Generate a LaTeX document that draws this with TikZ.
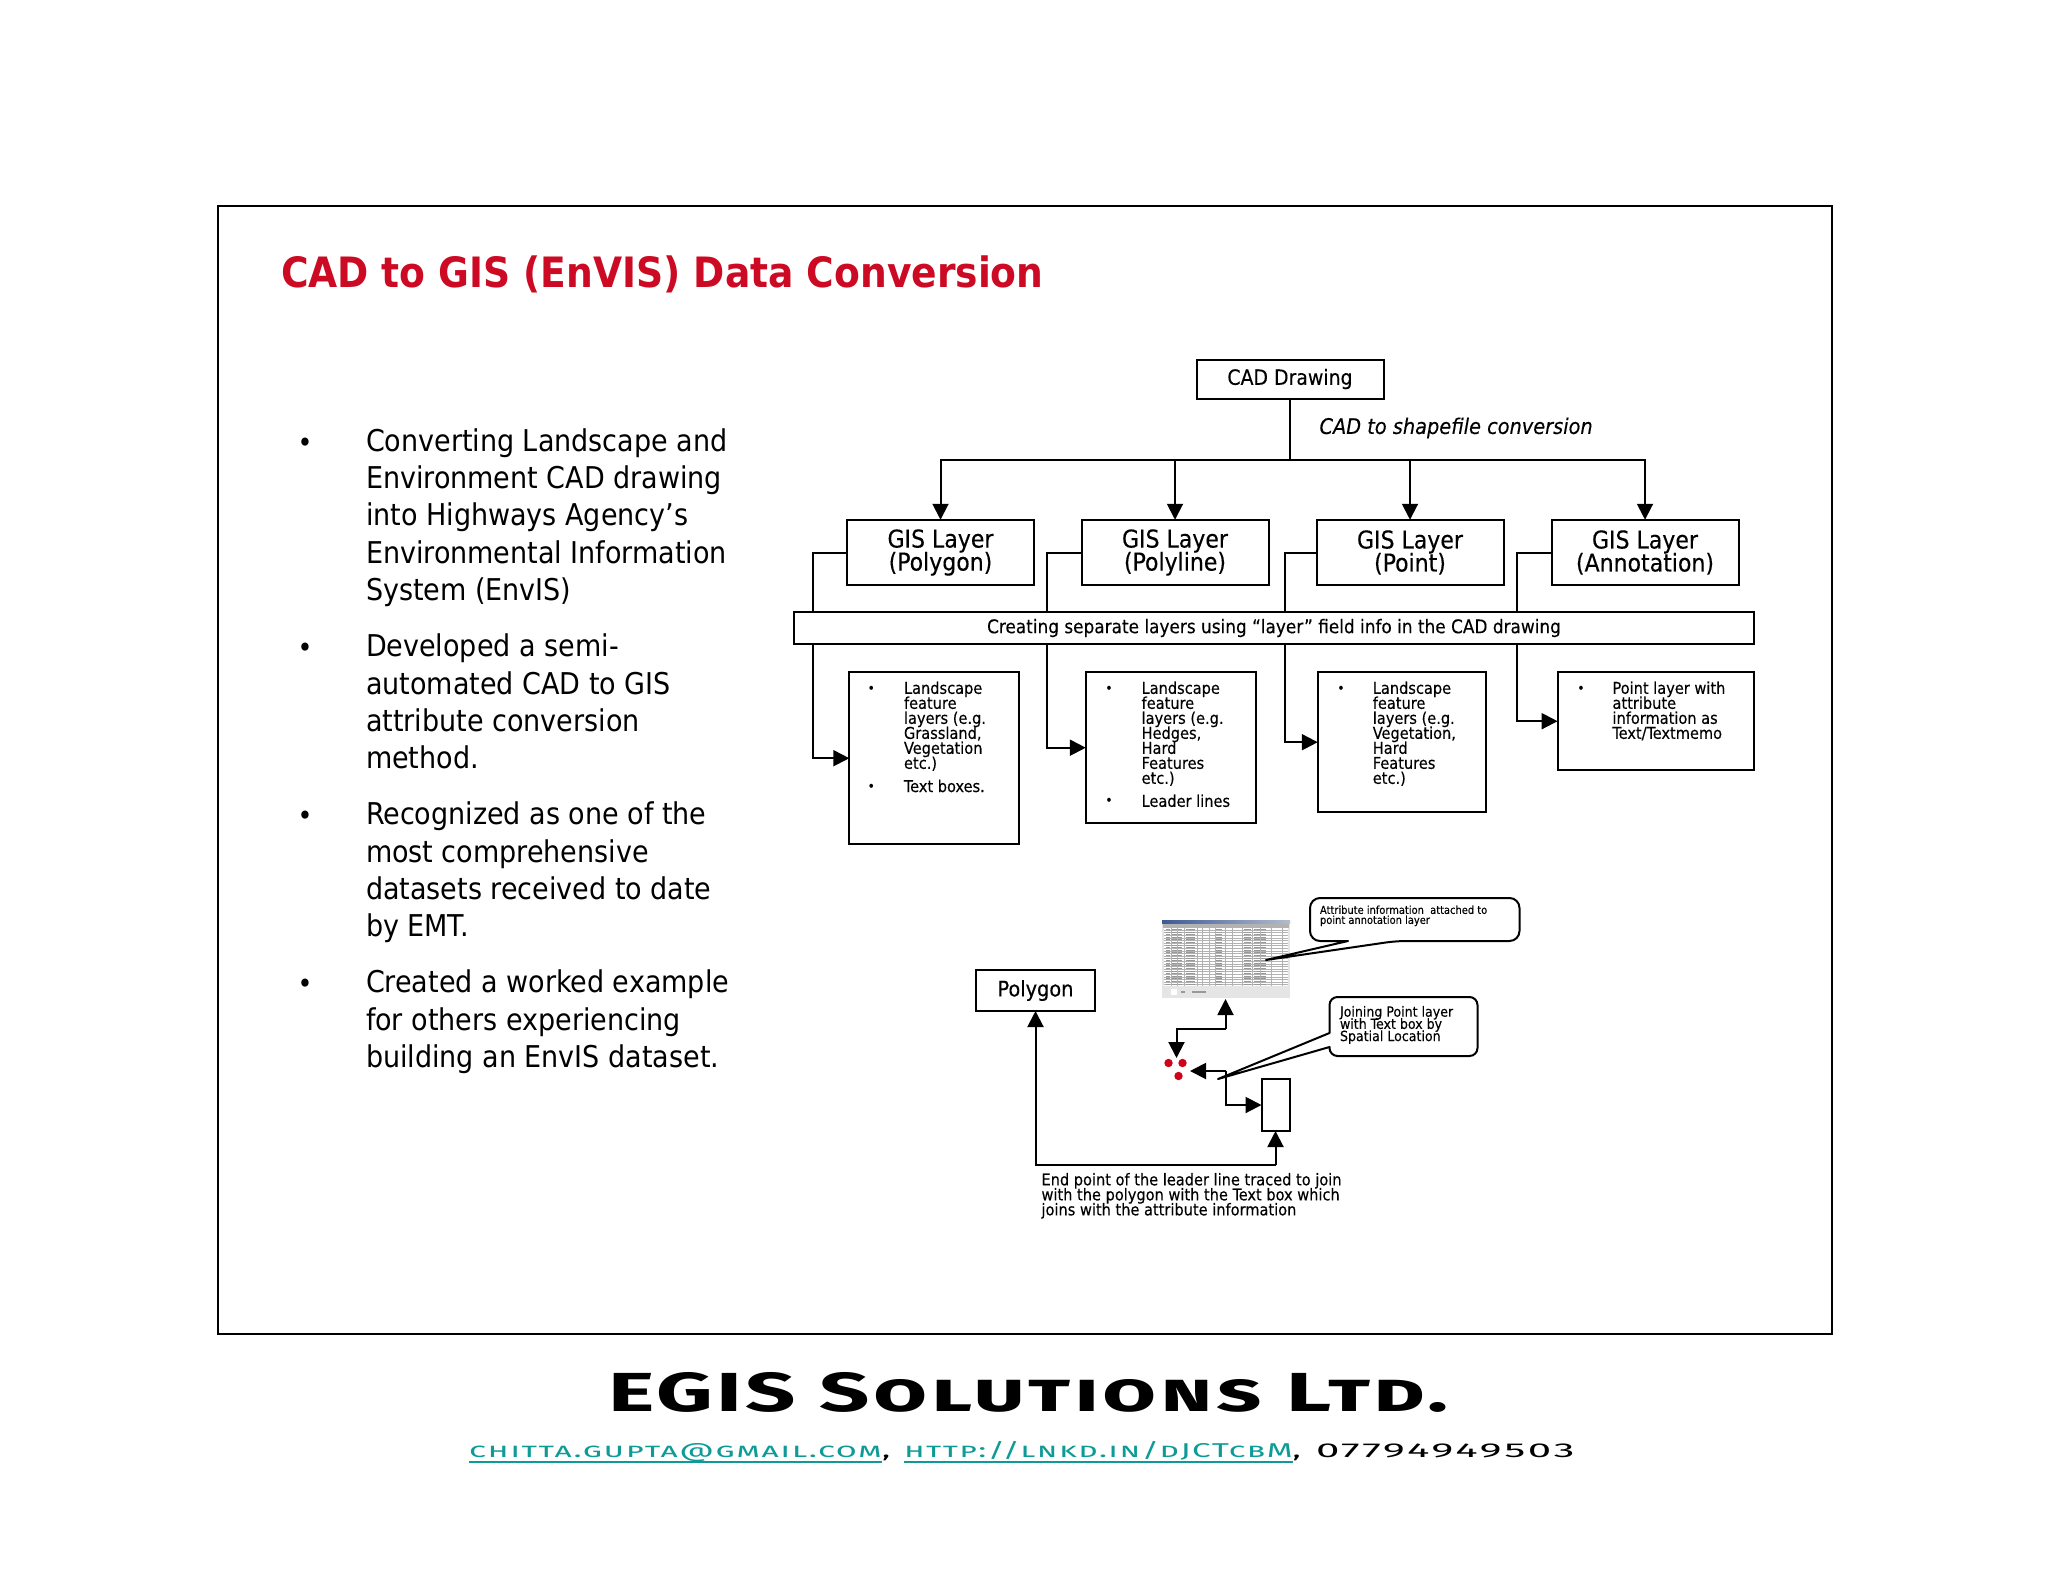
\documentclass[tikz,border=0pt]{standalone}
\usepackage{fontspec}
\setmainfont{DejaVu Sans Condensed}
\newfontfamily\dg[FakeBold=0.25]{DejaVu Sans Condensed}
\newfontfamily\headf[FakeStretch=1.6,LetterSpace=6,Letters=SmallCaps]{Fira Sans}
\newfontfamily\subf[FakeStretch=1.7,LetterSpace=7.5,Letters=SmallCaps]{Fira Sans}
\newfontfamily\webf[FakeStretch=1.66,LetterSpace=7.3,Letters=SmallCaps]{Fira Sans}
\newfontfamily\telf[FakeStretch=2.1,LetterSpace=13]{Fira Sans}
\usetikzlibrary{arrows.meta}
\newcommand\fsz[2]{\fontsize{#1}{#2}\lineskiplimit=-100pt\selectfont}
\definecolor{titlered}{HTML}{CC0A24}
\definecolor{linkteal}{HTML}{0E9B98}
\definecolor{dotred}{HTML}{D0021B}
\definecolor{barL}{HTML}{3C5A96}
\definecolor{barR}{HTML}{B4BCCC}
\tikzset{
  every node/.style={inner sep=0pt,outer sep=0pt},
  box/.style={draw=black,line width=2pt,fill=white,align=center},
  conn/.style={draw=black,line width=2pt},
  arr/.style={conn,-{Triangle[length=16pt,width=16pt]},shorten >=0pt},
  bubble/.style={line width=2pt,fill=white,line join=round},
  bodytxt/.style={anchor=north west,align=left,font=\fsz{30}{37.3}},
  bul/.style={font=\fsz{28}{28}},
  sbul/.style={font=\fsz{14}{14}},
  smalltxt/.style={anchor=north west,align=left,font=\fsz{16.2}{15}\dg},
}
\begin{document}
\begin{tikzpicture}[x=1pt,y=-1pt]
\useasboundingbox (0,0) rectangle (2048,1582);
\fill[white] (0,0) rectangle (2048,1582);
\draw[line width=2pt] (217.5,205.5) rectangle (1832,1334);
\node[anchor=base west,font=\fsz{41.8}{50}\bfseries,text=titlered] (title) at (281,287.5) {CAD to GIS (EnVIS) Data Conversion};
% left bullets
\node[bul] (b1) at (305,445) {•};
\node[bodytxt] (t1) at (366,428.5) {Converting Landscape and\\Environment CAD drawing\\into Highways Agency’s\\Environmental Information\\System (EnvIS)};
\node[bul] (b2) at (305,650) {•};
\node[bodytxt] (t2) at (366,634) {Developed a semi-\\automated CAD to GIS\\attribute conversion\\method.};
\node[bul] (b3) at (305,818) {•};
\node[bodytxt] (t3) at (366,802) {Recognized as one of the\\most comprehensive\\datasets received to date\\by EMT.};
\node[bul] (b4) at (305,986) {•};
\node[bodytxt] (t4) at (366,970) {Created a worked example\\for others experiencing\\building an EnvIS dataset.};
% top tree
\node[box,minimum width=187pt,minimum height=39pt,font=\fsz{21}{23}\dg] (cad) at (1290,379) {CAD Drawing};
\coordinate (bus) at (1290,460);
\node[anchor=west,font=\fsz{21.5}{22}\dg\itshape] (convlbl) at (1319.5,428) {CAD to shapefile conversion};
\foreach \n/\cx/\a/\b in {g1/940.5/GIS Layer/(Polygon),g2/1175/GIS Layer/(Polyline),g3/1410/GIS Layer/(Point),g4/1645/GIS Layer/(Annotation)}{
  \node[box,minimum width=187pt,minimum height=65.5pt,font=\fsz{24.5}{23}\dg] (\n) at (\cx,552.5) {\a\\\b};
}
\draw[conn] (cad.south) -- (bus);
\draw[arr] (bus) -| (g1.north);
\draw[arr] (bus) -| (g2.north);
\draw[arr] (bus) -| (g3.north);
\draw[arr] (bus) -| (g4.north);
\node[box,minimum width=960pt,minimum height=32pt,font=\fsz{18.8}{20}\dg] (bar) at (1274,628) {Creating separate layers using “layer” field info in the CAD drawing};
% lower boxes
\node[box,minimum width=170pt,minimum height=171.5pt] (l1) at (934.3,758.2) {};
\node[box,minimum width=170pt,minimum height=150.5pt] (l2) at (1170.8,747.7) {};
\node[box,minimum width=168.5pt,minimum height=139.6pt] (l3) at (1402,742.2) {};
\node[box,minimum width=196pt,minimum height=97.6pt] (l4) at (1655.6,721.2) {};
\coordinate (a1) at (812.8,0);
\coordinate (a2) at (1046.7,0);
\coordinate (a3) at (1284.5,0);
\coordinate (a4) at (1517,0);
\foreach \g/\l/\a in {g1/l1/a1,g2/l2/a2,g3/l3/a3,g4/l4/a4}{
  \draw[conn] (\g.west) -| (\a|-bar.north);
  \draw[arr] (\a|-bar.south) |- (\l.west);
}
\node[sbul] (s1) at (871.4,689.5) {•};
\node[smalltxt] (x1) at (904,681.5) {Landscape\\feature\\layers (e.g.\\Grassland,\\Vegetation\\etc.)};
\node[sbul] (s1b) at (871.4,787.5) {•};
\node[smalltxt] (x1b) at (904,779.7) {Text boxes.};
\node[sbul] (s2) at (1109,689.5) {•};
\node[smalltxt] (x2) at (1141.6,681.5) {Landscape\\feature\\layers (e.g.\\Hedges,\\Hard\\Features\\etc.)};
\node[sbul] (s2b) at (1109,802) {•};
\node[smalltxt] (x2b) at (1141.6,794.5) {Leader lines};
\node[sbul] (s3) at (1341,689.5) {•};
\node[smalltxt] (x3) at (1372.8,681.5) {Landscape\\feature\\layers (e.g.\\Vegetation,\\Hard\\Features\\etc.)};
\node[sbul] (s4) at (1581,689.5) {•};
\node[smalltxt] (x4) at (1612.5,681.5) {Point layer with\\attribute\\information as\\Text/Textmemo};
% lower diagram
\node[box,minimum width=119pt,minimum height=41pt,font=\fsz{21.5}{23}\dg] (poly) at (1035.5,990.5) {Polygon};
% screenshot
\node[fill=black!10,minimum width=128pt,minimum height=78pt] (sheet) at (1225.5,959) {};
\fill[white] (1164,928) rectangle (1288,986);
\shade[left color=barL,right color=barR] (1162,920) rectangle (1290,923.5);
\fill[black!30] (1163,923.5) rectangle (1289,928);
\foreach \r in {0,...,21}{
  \draw[black!30,line width=.4pt] (1164,{930+2.6*\r}) -- (1288,{930+2.6*\r});
  \foreach \c/\w in {1166/4,1171/6,1178/4,1186/9,1216/6,1244/7,1254/7,1261/5}{
    \fill[black!40] (\c,{929+2.6*\r}) rectangle ++(\w,1);
  }
}
\foreach \c in {1171,1177,1184,1197,1202,1209,1215,1225,1232,1242,1252,1260,1271,1282}{
  \draw[black!30,line width=.4pt] (\c,928) -- (\c,986);
}
\fill[white] (1171,989) rectangle (1177,995);
\fill[black!40] (1181,991) rectangle (1185,993);
\fill[black!40] (1192,991) rectangle (1206,993);
% callouts
\draw[bubble,rounded corners=10pt] (1348,941) -- (1310,941) -- (1310,898) -- (1519.5,898) -- (1519.5,941) -- (1396,941) [sharp corners] -- (1266,960) -- cycle;
\node[anchor=north west,align=left,font=\fsz{11}{10}\dg] (c1) at (1320,905.5) {Attribute information\ \ attached to\\point annotation layer};
\coordinate (d1) at (1168.5,1063);
\coordinate (d2) at (1182.5,1063);
\coordinate (d3) at (1178.5,1076);
\foreach \d in {d1,d2,d3}{\fill[dotred] (\d) circle (4.2pt);}
\node[box,minimum width=28pt,minimum height=52pt] (tb) at (1275.5,1105) {};
\coordinate (dots) at (1190,1071);
\coordinate (dn) at (1176.5,1058);
\coordinate (jn1) at (1225.5,1029);
\coordinate (jn2) at (1225.5,1071);
\coordinate (sheetb) at (1225.5,999);
\draw[arr] (jn1) -- (sheetb);
\draw[arr] (jn1) -| (dn);
\draw[arr] (jn2) -- (dots);
\draw[arr] (jn2) |- (tb.west);
\coordinate (lowb) at (1035.5,1165);
\draw[arr] (tb.south|-lowb) -- (tb.south);
\draw[arr] (tb.south|-lowb) -| (poly.south);
\draw[bubble,rounded corners=8pt] (1329.5,1033) -- (1329.5,997) -- (1477.5,997) -- (1477.5,1056) -- (1329.5,1056) [sharp corners] -- (1329.5,1047) -- (1218,1079) -- cycle;
\node[anchor=north west,align=left,font=\fsz{14}{12.2}\dg] (c2) at (1340,1006) {Joining Point layer\\with Text box by\\Spatial Location};
\node[anchor=north west,align=left,font=\fsz{16.2}{15}\dg] (endtxt) at (1041.5,1173) {End point of the leader line traced to join\\with the polygon with the Text box which\\joins with the attribute information};
% footer
\node[anchor=base west,font=\fsz{55}{60}\headf\bfseries] (egis) at (608,1411) {EGIS Solutions Ltd.};
\node[anchor=base west,font=\fsz{20}{22}\subf\color{linkteal}] (mail) at (469,1457) {chitta.gupta@gmail.com};
\node[anchor=base west,font=\fsz{20}{22}\subf] (c3) at (mail.base east) {,};
\node[anchor=base west,font=\fsz{20}{22}\webf\color{linkteal}] (web) at (904,1457) {http://lnkd.in/dJCTcbM};
\node[anchor=base west,font=\fsz{20}{22}\subf] (c4) at (web.base east) {,};
\node[anchor=base west,font=\fsz{20}{22}\telf] (tel) at (1316,1457) {07794949503};
\draw[linkteal,line width=2pt] (mail.west|-0,1462) -- (mail.east|-0,1462);
\draw[linkteal,line width=2pt] (web.west|-0,1462) -- (web.east|-0,1462);
\end{tikzpicture}
\end{document}
